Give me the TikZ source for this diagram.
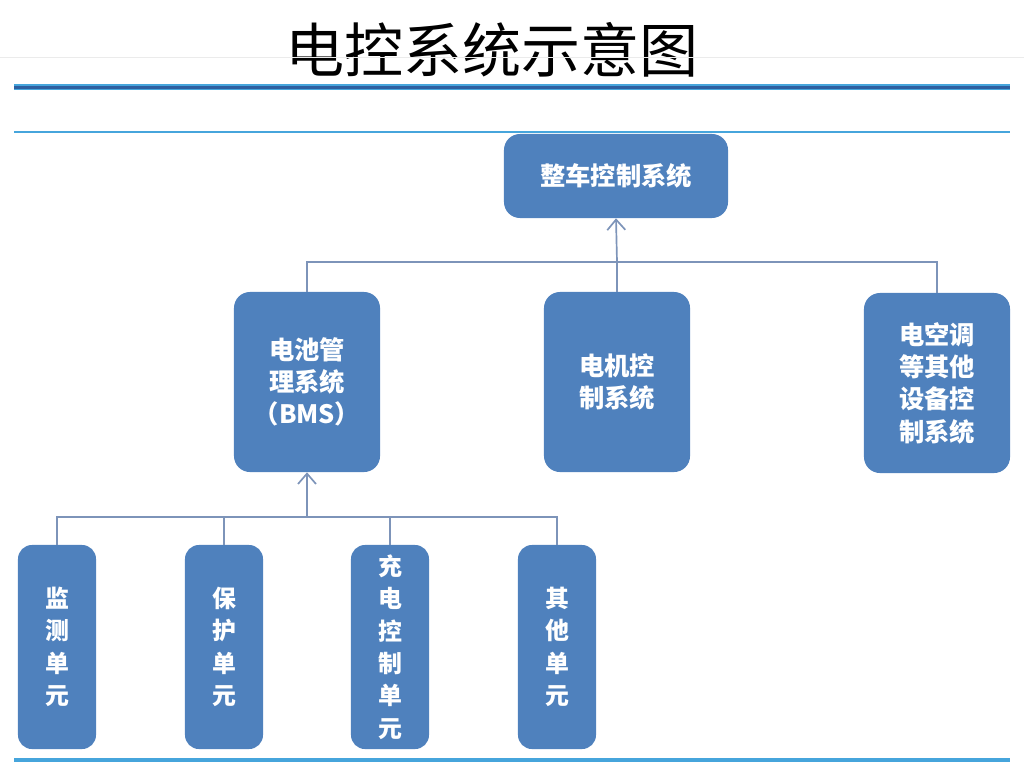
\documentclass[tikz,border=0pt]{standalone}
\usepackage{fontspec}
\usetikzlibrary{positioning, arrows.meta}
\newfontfamily\cjk{Noto Sans CJK SC}
\definecolor{boxblue}{RGB}{79,129,189}
\definecolor{linkgray}{RGB}{125,148,185}
\definecolor{rulelight}{RGB}{70,165,220}
\definecolor{ruledark}{RGB}{45,95,160}

\begin{document}
\begin{tikzpicture}[x=0.025cm, y=-0.025cm,
      sysbox/.style={rectangle, fill=boxblue, rounded corners=0.4cm, text=white,
                     minimum width=3.65cm, minimum height=4.5cm, align=center,
                     font=\cjk\bfseries\fontsize{18}{23}\selectfont},
      unitbox/.style={sysbox, rounded corners=0.35cm, minimum width=1.95cm,
                      minimum height=5.1cm, font=\cjk\bfseries\fontsize{17}{23}\selectfont},
      link/.style={draw=linkgray, line width=1.2pt},
      uplink/.style={link, -{Straight Barb[length=2.6mm, width=4.5mm]}}]
    \useasboundingbox (0,0) rectangle (1024,768);
    % title and rules
    \node (title) at (492,50) {\cjk\fontsize{42}{42}\selectfont 电控系统示意图};
    \draw[black!8, line width=0.6pt] (0,57) -- (1024,57);
    \draw[rulelight, line width=3.6pt] (14,87) -- (1010,87);
    \draw[ruledark, line width=2pt] (14,87.5) -- (1010,87.5);
    \draw[rulelight, line width=2pt] (14,132) -- (1010,132);
    \draw[rulelight, line width=2.4pt] (14,760) -- (1010,760);
    % systems
    \node[sysbox, minimum width=5.6cm, minimum height=2.1cm] (vcu) at (616,176) {整车控制系统};
    \node[sysbox] (bms) at (307,382) {电池管\\理系统\\（BMS）};
    \node[sysbox] (motor) at (617,382) {电机控\\制系统};
    \node[sysbox] (ac) at (937,383) {电空调\\等其他\\设备控\\制系统};
    % units
    \node[unitbox] (mon) at (57,647) {监\\测\\单\\元};
    \node[unitbox] (pro) at (224,647) {保\\护\\单\\元};
    \node[unitbox] (chg) at (390,647) {充\\电\\控\\制\\单\\元};
    \node[unitbox] (oth) at (557,647) {其\\他\\单\\元};
    % connectors
    \coordinate (vcuhub) at (617,262);
    \draw[link] (bms.north) |- (vcuhub) -| (ac.north);
    \draw[link] (motor.north) -- (vcuhub);
    \draw[uplink] (vcuhub) -- (vcu.south);
    \coordinate (bmshub) at (307,517);
    \draw[link] (mon.north) |- (bmshub) -| (oth.north);
    \draw[link] (pro.north) |- (bmshub);
    \draw[link] (chg.north) |- (bmshub);
    \draw[uplink] (bmshub) -- (bms.south);
  \end{tikzpicture}
\end{document}
